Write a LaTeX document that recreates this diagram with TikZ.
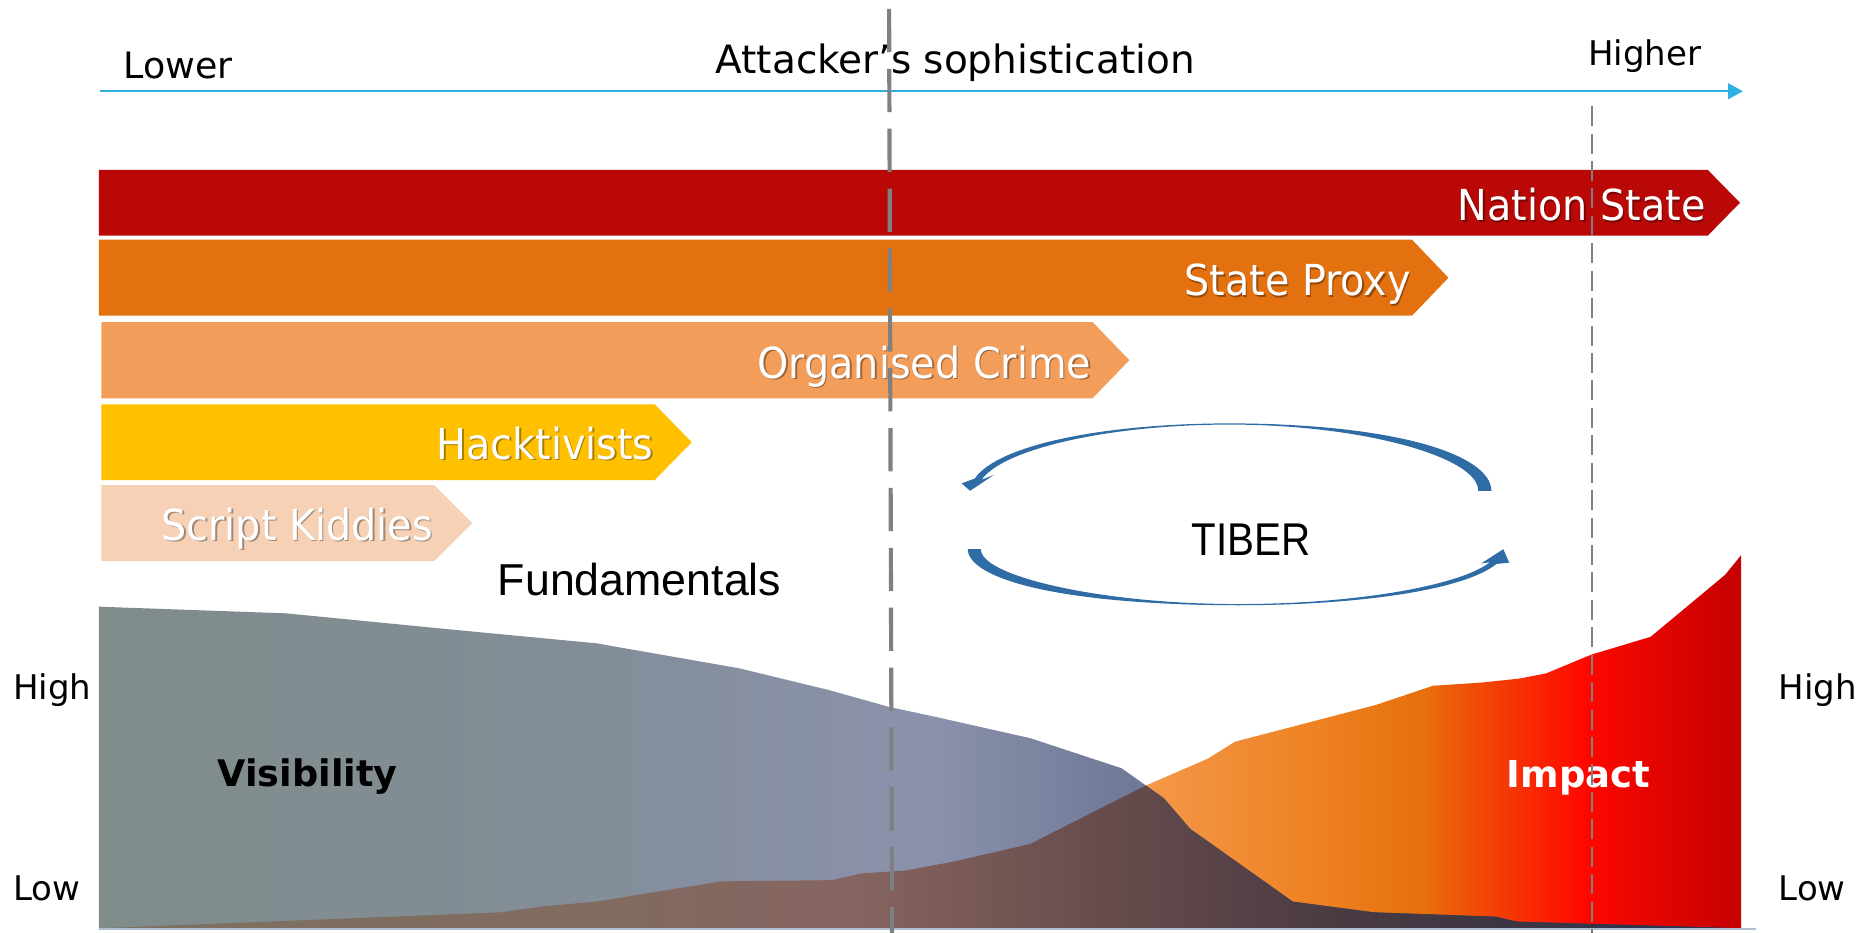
\documentclass[tikz,border=0pt]{standalone}
\usepackage{fontspec}
\setmainfont{DejaVu Sans}
\newfontfamily\barfont{DejaVu Sans}[FakeStretch=0.93]
\newfontfamily\arialfont{Liberation Sans}
\newfontfamily\tiberfont{Liberation Sans}[FakeStretch=0.88]
\usetikzlibrary{arrows.meta}

\definecolor{axisblue}{RGB}{46,176,226}
\definecolor{nsred}{RGB}{185,8,6}
\definecolor{sporange}{RGB}{227,113,16}
\definecolor{ocorange}{RGB}{242,157,90}
\definecolor{hkyellow}{RGB}{255,192,0}
\definecolor{skpeach}{RGB}{246,209,181}
\definecolor{tiberblue}{RGB}{47,108,165}
\definecolor{dashgrey}{RGB}{128,128,128}
\definecolor{basecol}{RGB}{176,188,208}

\definecolor{vA}{RGB}{127,140,138}
\definecolor{vB}{RGB}{130,141,150}
\definecolor{vC}{RGB}{139,145,172}
\definecolor{vD}{RGB}{126,134,162}
\definecolor{vE}{RGB}{107,120,150}
\definecolor{vF}{RGB}{70,90,130}
\definecolor{vG}{RGB}{31,56,100}

\definecolor{oA}{RGB}{126,113,96}
\definecolor{oB}{RGB}{128,108,96}
\definecolor{oC}{RGB}{134,101,96}
\definecolor{oD}{RGB}{104,76,76}
\definecolor{oE}{RGB}{72,58,66}
\definecolor{oF}{RGB}{58,52,68}
\definecolor{oG}{RGB}{35,50,85}

\definecolor{iA}{RGB}{243,152,75}
\definecolor{iB}{RGB}{238,130,35}
\definecolor{iC}{RGB}{230,112,12}
\definecolor{iD}{RGB}{236,96,10}
\definecolor{iE}{RGB}{255,8,0}
\definecolor{iF}{RGB}{195,0,0}

\pgfdeclarehorizontalshading{visshade}{100bp}{color(0bp)=(vA); color(25bp)=(vA); color(38.33bp)=(vB); color(50.31bp)=(vC); color(53.21bp)=(vD); color(56.85bp)=(vE); color(62bp)=(vF); color(75bp)=(vG); color(100bp)=(vG)}
\pgfdeclarehorizontalshading{ovshade}{100bp}{color(0bp)=(oA); color(25bp)=(oA); color(38.33bp)=(oB); color(47.88bp)=(oC); color(55.46bp)=(oD); color(63.09bp)=(oE); color(69bp)=(oF); color(75bp)=(oG); color(100bp)=(oG)}
\pgfdeclarehorizontalshading{impshade}{100bp}{color(0bp)=(iA); color(56.85bp)=(iA); color(61.93bp)=(iB); color(65.38bp)=(iC); color(65.92bp)=(iD); color(70.17bp)=(iE); color(75bp)=(iF); color(100bp)=(iF)}

\newcommand{\VisShape}{(83,778.4) -- (83,508.7) -- (240,514.3) -- (380,528) -- (500,539.4) -- (620,560.4) -- (695,578.6) -- (745,592.6) -- (784,601) -- (864,619) -- (940.5,644.2) -- (976,669.4) -- (998,695) -- (1084,756) -- (1152,765) -- (1254,768.6) -- (1272,772.8) -- (1460,778.4) -- cycle}
\newcommand{\ImpShape}{(83,778.4) -- (420,765) -- (455,760) -- (500,756) -- (605,739) -- (697.5,738) -- (722.5,732.3) -- (758.8,730) -- (799.4,722.5) -- (863.7,707.7) -- (960,659) -- (1013,636) -- (1035.6,621.9) -- (1154,591) -- (1201.5,575) -- (1241.5,572.4) -- (1274,569) -- (1296.5,564.6) -- (1334,549) -- (1384,534) -- (1446.5,482) -- (1460,465.4) -- (1460,778.4) -- cycle}

\tikzset{
  lbl/.style={inner sep=0pt, outer sep=0pt},
  toplabel/.style={lbl, font=\fontsize{30.5}{34}\selectfont},
  levellabel/.style={lbl, font=\fontsize{28.5}{32}\selectfont},
  bartext/.style={lbl, text=white, font=\barfont\fontsize{35.8}{40}\selectfont},
  barshadow/.style={lbl, text=black, opacity=0.35, font=\barfont\fontsize{35.8}{40}\selectfont},
  thickdash/.style={dashgrey, line width=3.5pt, dash pattern=on 36.3pt off 13.9pt},
  thindash/.style={dashgrey, line width=1.6pt, dash pattern=on 16.8pt off 6.2pt},
}

\newcommand{\BarLabel}[4]{%
  \node[barshadow, anchor=base east] (#1-sh) at ({#2+1.3},{#3+1.3}) {#4};
  \node[bartext, anchor=base east] (#1) at (#2,#3) {#4};}

\begin{document}
\begin{tikzpicture}[x=1pt, y=-1pt]
\useasboundingbox (0,0) rectangle (1568,782.3);

% axis
\coordinate (ax0) at (84,76.5);
\coordinate (ax1) at (1461.5,76.5);
\draw[axisblue, line width=2pt, -{Triangle[length=12.5pt, width=13pt]}] (ax0) -- (ax1);
\node[toplabel, anchor=base west] (lower) at (103.5,66) {Lower};
\node[lbl, anchor=base west, font=\fontsize{32.7}{36}\selectfont] (soph) at (600,62) {Attacker’s sophistication};
\node[lbl, anchor=base west, font=\fontsize{28.5}{32}\selectfont] (higher) at (1331.6,55.3) {Higher};

% bars
\fill[nsred] (83,142.5) -- (1432,142.5) -- (1459,170) -- (1432,197.5) -- (83,197.5) -- cycle;
\fill[sporange] (83,201) -- (1184,201) -- (1214.5,232.9) -- (1184,264.7) -- (83,264.7) -- cycle;
\fill[ocorange] (85,270) -- (916,270) -- (947,302) -- (916,334) -- (85,334) -- cycle;
\fill[hkyellow] (85,339) -- (549,339) -- (580,370.8) -- (549,402.5) -- (85,402.5) -- cycle;
\fill[skpeach] (85,406.7) -- (364,406.7) -- (396,438.6) -- (364,470.5) -- (85,470.5) -- cycle;

\BarLabel{ns}{1430}{185}{Nation State}
\BarLabel{sp}{1183}{248}{State Proxy}
\BarLabel{oc}{915}{317}{Organised Crime}
\BarLabel{hk}{548}{385.2}{Hacktivists}
\BarLabel{sk}{363}{453}{Script Kiddies}

% TIBER cycle
\fill[tiberblue]
 plot[domain=0:90,samples=45] ({1031+(214.5+5*(cos(\x))^2)*cos(\x)},{411.5-(56.5+5*(cos(\x))^2)*sin(\x)})
 -- plot[domain=90:170,samples=45] ({1031+(214.5+2.5*(cos(\x))^2)*cos(\x)},{411.5-(56.5+2.5*(cos(\x))^2)*sin(\x)})
 -- (806.3,405.3) -- (813.4,411.5) -- (833.3,398.3)
 -- plot[domain=170:90,samples=45] ({1031+(213.5-2.5*(cos(\x))^2)*cos(\x)},{411.5-(55.5-2.5*(cos(\x))^2)*sin(\x)})
 -- plot[domain=90:0,samples=45] ({1031+(213.5-5*(cos(\x))^2)*cos(\x)},{411.5-(55.5-5*(cos(\x))^2)*sin(\x)})
 -- cycle;
\fill[tiberblue]
 plot[domain=180:90,samples=45] ({1038+(221.5+5*(cos(\x))^2)*cos(\x)},{460.5+(47+5*(cos(\x))^2)*sin(\x)})
 -- plot[domain=90:14.5,samples=45] ({1038+(221.5+2.5*(cos(\x))^2)*cos(\x)},{460.5+(47+2.5*(cos(\x))^2)*sin(\x)})
 -- (1265.5,471.8) -- (1260.5,460.5) -- (1242,472.4)
 -- plot[domain=14.5:90,samples=45] ({1038+(220.5-2.5*(cos(\x))^2)*cos(\x)},{460.5+(46-2.5*(cos(\x))^2)*sin(\x)})
 -- plot[domain=90:180,samples=45] ({1038+(220.5-5*(cos(\x))^2)*cos(\x)},{460.5+(46-5*(cos(\x))^2)*sin(\x)})
 -- cycle;
\node[lbl, anchor=base west, font=\tiberfont\fontsize{38.5}{42}\selectfont] (tiber) at (999,465.4) {TIBER};
\node[lbl, anchor=base west, font=\arialfont\fontsize{37.5}{41}\selectfont] (fund) at (417.5,499) {Fundamentals};

% charts
\shade[shading=impshade] \ImpShape;
\shade[shading=visshade] \VisShape;
\begin{scope}
  \clip \ImpShape;
  \shade[shading=ovshade] \VisShape;
\end{scope}
\coordinate (bl0) at (83,779);
\coordinate (bl1) at (1472,779);
\draw[basecol, line width=1pt] (bl0) -- (bl1);

\node[lbl, anchor=base west, font=\bfseries\fontsize{30.7}{34}\selectfont] (vis) at (182.5,659.6) {Visibility};
\node[lbl, anchor=base west, text=white, font=\bfseries\fontsize{31}{34}\selectfont] (imp) at (1263.6,660.2) {Impact};

\node[levellabel, anchor=base west] (highL) at (11,586.4) {High};
\node[levellabel, anchor=base west] (lowL) at (11,754.7) {Low};
\node[levellabel, anchor=base west] (highR) at (1491.5,586.4) {High};
\node[levellabel, anchor=base west] (lowR) at (1491.5,754.7) {Low};

% dashed separators
\coordinate (d1top) at (745.5,7.5);
\coordinate (d1bot) at (748,782.3);
\draw[thickdash] (d1top) -- (d1bot);
\coordinate (d2top) at (1334.6,89);
\coordinate (d2bot) at (1334.6,782.3);
\draw[thindash] (d2top) -- (d2bot);
\end{tikzpicture}
\end{document}
